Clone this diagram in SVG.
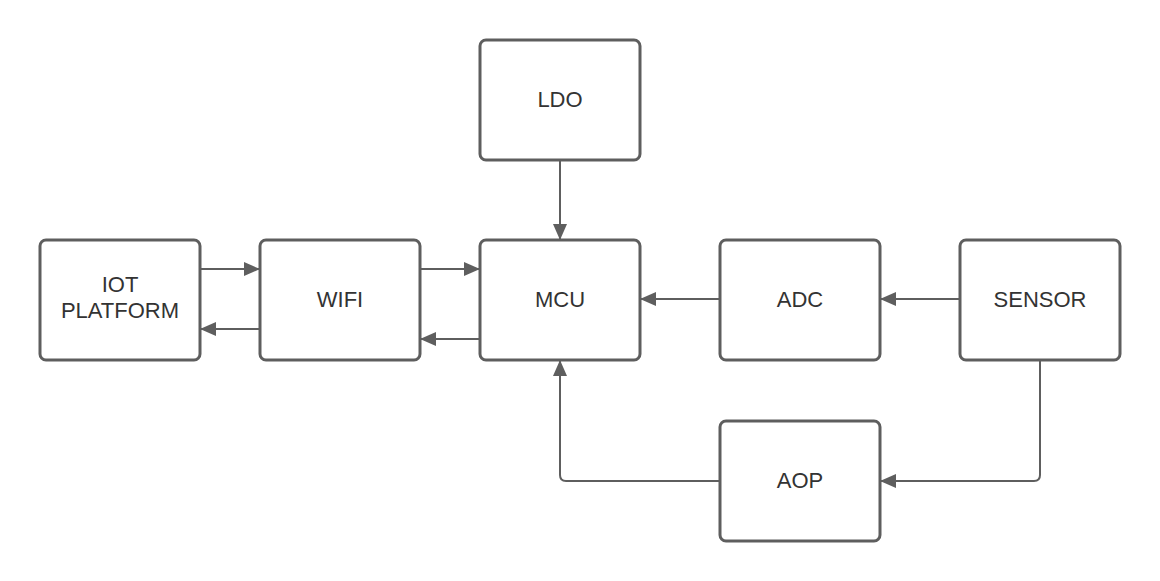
<svg xmlns="http://www.w3.org/2000/svg" width="1160" height="581" viewBox="0 0 1160 581">
<defs>
<style>
.box{fill:#fff;stroke:#5e5e5e;stroke-width:3}
.lbl{font-family:"Liberation Sans",Arial,sans-serif;font-size:22px;fill:#333;text-anchor:middle}
.ln{fill:none;stroke:#5e5e5e;stroke-width:2}
</style>
<marker id="ah" markerWidth="16" markerHeight="14" refX="15" refY="7" orient="auto" markerUnits="userSpaceOnUse">
<path d="M0,0 L16,7 L0,14 Z" fill="#5e5e5e"/>
</marker>
</defs>
<rect width="1160" height="581" fill="#fff"/>
<g id="connectors">
<path class="ln" d="M560,160 V239" marker-end="url(#ah)"/>
<path class="ln" d="M201,269 H259" marker-end="url(#ah)"/>
<path class="ln" d="M259,329 H201" marker-end="url(#ah)"/>
<path class="ln" d="M421,269 H479" marker-end="url(#ah)"/>
<path class="ln" d="M479,339 H421" marker-end="url(#ah)"/>
<path class="ln" d="M719,299 H641" marker-end="url(#ah)"/>
<path class="ln" d="M959,299 H881" marker-end="url(#ah)"/>
<path class="ln" d="M1040,361 V475 Q1040,481 1034,481 H881" marker-end="url(#ah)"/>
<path class="ln" d="M719,481 H566 Q560,481 560,475 V361" marker-end="url(#ah)"/>
</g>
<g id="node-ldo"><rect class="box" x="480" y="40" width="160" height="120" rx="6"/><text class="lbl" x="560" y="107">LDO</text></g>
<g id="node-iot"><rect class="box" x="40" y="240" width="160" height="120" rx="6"/><text class="lbl" x="120" y="292">IOT</text><text class="lbl" x="120" y="318">PLATFORM</text></g>
<g id="node-wifi"><rect class="box" x="260" y="240" width="160" height="120" rx="6"/><text class="lbl" x="340" y="307">WIFI</text></g>
<g id="node-mcu"><rect class="box" x="480" y="240" width="160" height="120" rx="6"/><text class="lbl" x="560" y="307">MCU</text></g>
<g id="node-adc"><rect class="box" x="720" y="240" width="160" height="120" rx="6"/><text class="lbl" x="800" y="307">ADC</text></g>
<g id="node-sensor"><rect class="box" x="960" y="240" width="160" height="120" rx="6"/><text class="lbl" x="1040" y="307">SENSOR</text></g>
<g id="node-aop"><rect class="box" x="720" y="421" width="160" height="120" rx="6"/><text class="lbl" x="800" y="488">AOP</text></g>
</svg>
